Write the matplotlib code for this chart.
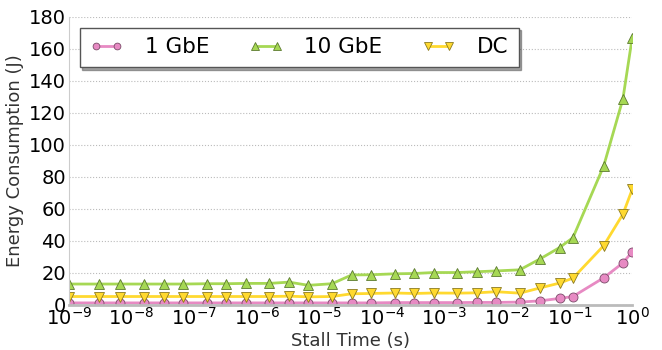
import numpy as np
import matplotlib
matplotlib.use('Agg')

import matplotlib.pyplot as plt

# stall times (s)
stall = [1e-9, 3e-9, 6.5e-9,
         1.6e-8, 3.3e-8, 6.7e-8,
         1.6e-7, 3.3e-7, 6.7e-7,
         1.6e-6, 3.3e-6, 6.7e-6,
         1.6e-5, 3.3e-5, 6.7e-5,
         1.6e-4, 3.3e-4, 6.7e-4,
         1.6e-3, 3.3e-3, 6.7e-3,
         1.6e-2, 3.4e-2, 6.9e-2,
         0.113, 0.35, 0.71, 1.0]

# energy (J)
gbe1 = [1, 1, 1, 1, 1, 1, 1, 1, 1, 1, 1, 1, 1, 1, 1, 1.2, 1.2, 1.2,
        1.2, 1.3, 1.3, 1.5, 2.3, 3.8, 5, 16.7, 26, 33]
gbe10 = [12.8, 12.8, 12.8, 12.8, 12.8, 12.8, 13, 13, 13.2, 13.2, 14, 12,
         13, 18.5, 18.6, 19.2, 19.4, 20, 20, 20.5, 21, 21.7, 28.6, 35.6,
         41.8, 86.6, 128.6, 167]
dc = [5, 5, 5, 5, 5, 5, 5, 5, 5, 5, 5.2, 4.8, 5, 6.7, 6.9, 7.2, 6.9, 7.2,
      7.1, 7.3, 8, 7.1, 10.4, 13.4, 16.5, 36.8, 56.5, 72]

labels = ["1 GbE", "10 GbE", "DC"]


def main():
    fig, ax = plt.subplots(figsize=(6.62, 3.5), dpi=100)
    fig.subplots_adjust(left=0.104, right=0.955, top=0.952, bottom=0.13)

    ax.plot(stall, gbe1, color='#e78ac3', marker='o', markersize=6.5,
            markeredgecolor='#7a4a68', markeredgewidth=0.6, lw=2, label=labels[0])
    ax.plot(stall, gbe10, color='#a6d854', marker='^', markersize=7,
            markeredgecolor='#5c7a30', markeredgewidth=0.6, lw=2, label=labels[1])
    ax.plot(stall, dc, color='#ffd92f', marker='v', markersize=7,
            markeredgecolor='#8a7a20', markeredgewidth=0.6, lw=2, label=labels[2])

    ax.set_xscale('log')
    ax.set_xlim(1e-9, 1)
    ax.set_ylim(0, 180)
    ax.set_yticks(np.arange(0, 181, 20))
    ax.set_xticks([10.0 ** k for k in range(-9, 1)])
    ax.minorticks_off()
    ax.tick_params(length=0, labelsize=14, pad=2)

    ax.yaxis.grid(True, linestyle=':', color='#bbbbbb', lw=0.8)
    ax.set_axisbelow(True)
    for s in ['top', 'right']:
        ax.spines[s].set_visible(False)
    ax.spines['left'].set_color('#cccccc')
    ax.spines['bottom'].set_color('#bbbbbb')
    ax.spines['bottom'].set_linewidth(2)

    ax.set_xlabel("Stall Time (s)", fontsize=13, color='#333333', labelpad=2)
    ax.set_ylabel("Energy Consumption (J)", fontsize=13, color='#333333', labelpad=4)

    leg = ax.legend(loc='upper left', ncol=3, fontsize=15.5, shadow=True,
                    fancybox=False, numpoints=2, markerscale=0.75,
                    handlelength=1.6, handletextpad=1.0, columnspacing=1.8,
                    bbox_to_anchor=(0.0, 1.0), borderpad=0.45)
    leg.get_frame().set_edgecolor('#555555')

    fig.savefig('out.png')


main()
